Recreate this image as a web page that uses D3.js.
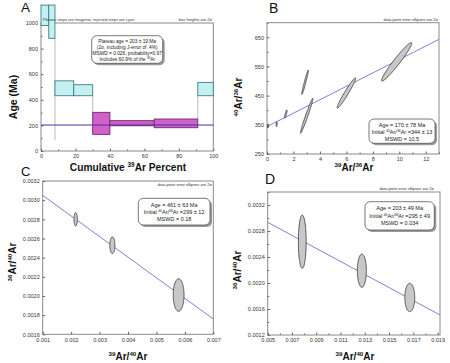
<!DOCTYPE html>
<html><head><meta charset="utf-8">
<script src="https://cdn.jsdelivr.net/npm/d3@7"></script>
<style>body{margin:0;background:#fff}svg{display:block;font-family:Arial,"Liberation Sans",sans-serif}</style>
</head><body><svg id="c" width="450" height="363"></svg>
<script>
// ---------- Panel A: age spectrum ----------
const stepEndPct   = [4.5, 8.1, 19, 30, 40, 65.7, 91, 100];
const stepAge      = [1060, 1010, 490, 475, 216, 217, 216, 484];
const stepErr2s    = [80, 130, 58, 43, 86, 20, 34, 52];
const stepPlateau  = [0, 0, 0, 0, 1, 1, 1, 0];
const connectorPct = [8.1, 30, 91];
const connectorFrom= [880, 432, 250];
const connectorTo  = [85, 302, 432];
const plateauAge   = 203;
const aXTicks = [0, 20, 40, 60, 80, 100];
const aXMinor = [10, 30, 50, 70, 90];
const aYTicks = [0, 200, 400, 600, 800, 1000];
const aYMinor = [100, 300, 500, 700, 900];

// ---------- Panel B: normal isochron ----------
const bX   = [0.08, 0.73, 1.42, 2.88, 3.0, 6.0, 9.8];
const bY   = [346, 352, 387, 496, 381, 459, 566];
const bSx  = [0.03, 0.04, 0.1, 0.25, 0.47, 0.7, 1.14];
const bSy  = [7, 8, 14, 42, 60, 52, 66];
const bRho = [0.3, 0.3, 0.85, 0.97, 0.98, 0.97, 0.965];
const bIntercept = 344, bSlope = 23;
const bXTicks = [0, 2, 4, 6, 8, 10, 12];
const bXMinor = [1, 3, 5, 7, 9, 11, 13];
const bYTicks = [250, 350, 450, 550, 650];
const bYMinor = [300, 400, 500, 600, 700];

// ---------- Panel C: inverse isochron ----------
const cX   = [0.00216, 0.00345, 0.00578];
const cY   = [0.00280, 0.00253, 0.00201];
const cSx  = [0.00006, 0.00009, 0.00019];
const cSy  = [0.00007, 0.000087, 0.00017];
const cRho = [0, 0, 0];
const cIntercept = 0.003265, cSlope = -0.215;
const cXTicks = [0.001, 0.002, 0.003, 0.004, 0.005, 0.006, 0.007];
const cYTicks = [0.0016, 0.0018, 0.0020, 0.0022, 0.0024, 0.0026, 0.0028, 0.0030, 0.0032];

// ---------- Panel D: inverse isochron ----------
const dX   = [0.00785, 0.01276, 0.01671];
const dY   = [0.002635, 0.002189, 0.001777];
const dSx  = [0.00032, 0.00037, 0.00041];
const dSy  = [0.00041, 0.000256, 0.000218];
const dRho = [0, 0, 0];
const dIntercept = 0.003436, dSlope = -0.1004;
const dXTicks = [0.005, 0.007, 0.009, 0.011, 0.013, 0.015, 0.017, 0.019];
const dXMinor = [0.006, 0.008, 0.010, 0.012, 0.014, 0.016, 0.018];
const dYTicks = [0.0012, 0.0016, 0.0020, 0.0024, 0.0028, 0.0032];
const dYMinor = [0.0014, 0.0018, 0.0022, 0.0026, 0.0030, 0.0034];

const svg = d3.select("#c");
const FRAME = "#8a8a8a", TICKTXT = "#333";
const LINE = "#9b74d4";

function rich(sel, segs, fs) {
  let up = false;
  segs.forEach(s => {
    const ts = sel.append("tspan").text(s[0]);
    if (s[1]) { ts.attr("font-size", fs * 0.62); if (!up) { ts.attr("dy", -fs * 0.38); up = true; } }
    else if (up) { ts.attr("dy", fs * 0.38); up = false; }
  });
}

function axes(x, y, xt, xm, yt, ym, xf, yf) {
  const g = svg.append("g");
  const [x0, x1] = x.range(), [y0, y1] = y.range();
  g.append("rect").attr("x", x0).attr("y", y1).attr("width", x1 - x0).attr("height", y0 - y1)
    .attr("fill", "none").attr("stroke", FRAME).attr("stroke-width", 1);
  const style = a => {
    a.select(".domain").remove();
    a.selectAll(".tick line").attr("stroke", "#666");
    a.selectAll(".tick text").attr("font-size", 5.5).attr("fill", TICKTXT).attr("font-family", "Arial");
  };
  g.append("g").attr("transform", `translate(0,${y0})`)
    .call(d3.axisBottom(x).tickValues(xt).tickSize(-2.5).tickPadding(3.5).tickFormat(xf)).call(style);
  if (xm) g.append("g").attr("transform", `translate(0,${y0})`)
    .call(d3.axisBottom(x).tickValues(xm).tickSize(-1.5).tickFormat("")).call(style);
  g.append("g").attr("transform", `translate(${x0},0)`)
    .call(d3.axisLeft(y).tickValues(yt).tickSize(-2.5).tickPadding(3).tickFormat(yf)).call(style);
  if (ym) g.append("g").attr("transform", `translate(${x0},0)`)
    .call(d3.axisLeft(y).tickValues(ym.filter(v => v >= y.domain()[0] && v <= y.domain()[1])).tickSize(-1.5).tickFormat("")).call(style);
}

function infoBox(x0, y0, w, h, lines, fs, lh) {
  const g = svg.append("g");
  g.append("rect").attr("x", x0 + 2).attr("y", y0 + 2).attr("width", w).attr("height", h)
    .attr("rx", 5).attr("fill", "#9a9a9a");
  g.append("rect").attr("x", x0).attr("y", y0).attr("width", w).attr("height", h)
    .attr("rx", 5).attr("fill", "#fff").attr("stroke", "#555").attr("stroke-width", 0.8);
  lines.forEach((segs, i) => {
    const t = g.append("text").attr("x", x0 + w / 2).attr("y", y0 + lh * (i + 1) + 0.8)
      .attr("text-anchor", "middle").attr("font-size", fs).attr("fill", "#222");
    rich(t, segs, fs);
  });
}

function smallNote(xr, yb, txt) {
  svg.append("text").attr("x", xr).attr("y", yb).attr("text-anchor", "end")
    .attr("font-size", 4).attr("fill", "#333").text(txt);
}

function axisTitle(x, y, segs, fs, rot) {
  const t = svg.append("text").attr("text-anchor", "middle").attr("font-size", fs)
    .attr("font-weight", "bold").attr("fill", "#111");
  if (rot) t.attr("transform", `translate(${x},${y}) rotate(-90)`);
  else t.attr("x", x).attr("y", y);
  rich(t, segs, fs);
}

function ellipses(x, y, X, Y, SX, SY, R) {
  const pts = d3.range(0, 2 * Math.PI + 0.001, Math.PI / 60);
  const line = d3.line().curve(d3.curveLinearClosed);
  X.forEach((cx, i) => {
    const p = pts.map(t => [x(cx + SX[i] * Math.cos(t)),
      y(Y[i] + SY[i] * (R[i] * Math.cos(t) + Math.sqrt(1 - R[i] * R[i]) * Math.sin(t)))]);
    svg.append("path").attr("d", line(p)).attr("fill", "#c8c8c8").attr("stroke", "#333").attr("stroke-width", 0.8);
  });
}

function isoLine(x, y, b, m) {
  const [d0, d1] = x.domain();
  svg.append("line").attr("x1", x(d0)).attr("y1", y(b + m * d0)).attr("x2", x(d1)).attr("y2", y(b + m * d1))
    .attr("stroke", LINE).attr("stroke-width", 1);
}

function panelLetter(x, y, s, fs) {
  svg.append("text").attr("x", x).attr("y", y).attr("font-size", fs || 14).attr("fill", "#111").text(s);
}

// ===== Panel A =====
{
  const x = d3.scaleLinear().domain([0, 100]).range([41, 213.3]);
  const y = d3.scaleLinear().domain([0, 1000]).range([151, 23]);
  axes(x, y, aXTicks, aXMinor, aYTicks, aYMinor, d3.format("d"), d3.format("d"));
  connectorPct.forEach((p, i) => {
    svg.append("line").attr("x1", x(p)).attr("x2", x(p)).attr("y1", y(connectorFrom[i])).attr("y2", y(connectorTo[i]))
      .attr("stroke", "#aaa").attr("stroke-width", 0.8);
  });
  stepEndPct.forEach((e, i) => {
    const s = i === 0 ? 0 : stepEndPct[i - 1];
    const pl = stepPlateau[i];
    svg.append("rect").attr("x", x(s)).attr("width", x(e) - x(s))
      .attr("y", y(stepAge[i] + stepErr2s[i])).attr("height", y(stepAge[i] - stepErr2s[i]) - y(stepAge[i] + stepErr2s[i]))
      .attr("fill", pl ? "#d160c9" : "#c3f1f1").attr("stroke", pl ? "#6e2a6c" : "#3f7f80").attr("stroke-width", 0.9);
  });
  svg.append("line").attr("x1", x(0)).attr("x2", x(100)).attr("y1", y(plateauAge)).attr("y2", y(plateauAge))
    .attr("stroke", "#4a2fa8").attr("stroke-width", 1);
  svg.append("text").attr("x", 43).attr("y", 20.5).attr("font-size", 4).attr("fill", "#333")
    .text("Plateau steps are magenta, rejected steps are cyan");
  smallNote(212, 20.5, "box heights are 2σ");
  infoBox(91.7, 35.7, 71, 27.6, [
    [["Plateau age = 203 ± 19 Ma"]],
    [["(2σ, including J-error of .4%)"]],
    [["MSWD = 0.026, probability=0.97"]],
    [["Includes 60.9% of the "], ["39", 1], ["Ar"]]
  ], 4.8, 6);
  axisTitle(17, 97, [["Age (Ma)"]], 10.5, true);
  axisTitle(128, 171, [["Cumulative "], ["39", 1], ["Ar Percent"]], 10.2, false);
  panelLetter(21, 12, "A", 13.5);
}

// ===== Panel B =====
{
  const x = d3.scaleLinear().domain([0, 13]).range([267, 439]);
  const y = d3.scaleLinear().domain([250, 700]).range([154, 22.7]);
  axes(x, y, bXTicks, bXMinor, bYTicks, bYMinor, d3.format("d"), d3.format("d"));
  isoLine(x, y, bIntercept, bSlope);
  ellipses(x, y, bX, bY, bSx, bSy, bRho);
  smallNote(438, 20.5, "data-point error ellipses are 2σ");
  infoBox(369, 119, 66, 24.3, [
    [["Age = 170 ± 78 Ma"]],
    [["Initial "], ["40", 1], ["Ar/"], ["36", 1], ["Ar =344 ± 13"]],
    [["MSWD = 10.5"]]
  ], 5.5, 7);
  axisTitle(242, 97, [["40", 1], ["Ar/"], ["36", 1], ["Ar"]], 10, true);
  axisTitle(354, 171, [["39", 1], ["Ar/"], ["36", 1], ["Ar"]], 10, false);
  panelLetter(269, 13, "B");
}

// ===== Panel C =====
{
  const x = d3.scaleLinear().domain([0.001, 0.007]).range([42.7, 213.3]);
  const y = d3.scaleLinear().domain([0.0016, 0.0032]).range([334.3, 181]);
  axes(x, y, cXTicks, null, cYTicks, null, d3.format(".3f"), d3.format(".4f"));
  isoLine(x, y, cIntercept, cSlope);
  ellipses(x, y, cX, cY, cSx, cSy, cRho);
  smallNote(212, 185.5, "data-point error ellipses are 2σ");
  infoBox(138.3, 198.3, 71.7, 26.7, [
    [["Age = 461 ± 63 Ma"]],
    [["Initial "], ["40", 1], ["Ar/"], ["36", 1], ["Ar =299 ± 12"]],
    [["MSWD = 0.18"]]
  ], 5.5, 7.4);
  axisTitle(16, 262, [["36", 1], ["Ar/"], ["40", 1], ["Ar"]], 10, true);
  axisTitle(128, 360, [["39", 1], ["Ar/"], ["40", 1], ["Ar"]], 10, false);
  panelLetter(21, 175.5, "C", 13);
}

// ===== Panel D =====
{
  const x = d3.scaleLinear().domain([0.005, 0.0192]).range([267.7, 440]);
  const y = d3.scaleLinear().domain([0.0012, 0.0034]).range([335, 192]);
  axes(x, y, dXTicks, dXMinor, dYTicks, dYMinor, d3.format(".3f"), d3.format(".4f"));
  isoLine(x, y, dIntercept, dSlope);
  ellipses(x, y, dX, dY, dSx, dSy, dRho);
  smallNote(434, 190, "data-point error ellipses are 2σ");
  infoBox(365, 201.7, 69.3, 28.3, [
    [["Age = 203 ± 49 Ma"]],
    [["Initial "], ["40", 1], ["Ar/"], ["36", 1], ["Ar =295 ± 49"]],
    [["MSWD = 0.034"]]
  ], 5.5, 7.6);
  axisTitle(241, 270, [["36", 1], ["Ar/"], ["40", 1], ["Ar"]], 10, true);
  axisTitle(355, 360, [["39", 1], ["Ar/"], ["40", 1], ["Ar"]], 10, false);
  panelLetter(265, 184, "D");
}
</script></body></html>
